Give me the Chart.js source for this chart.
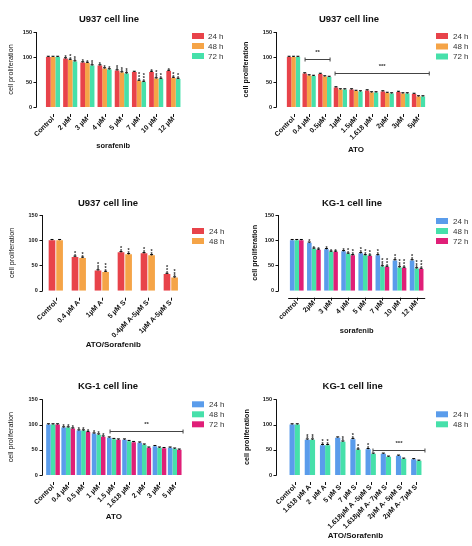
<!DOCTYPE html>
<html><head><meta charset="utf-8">
<script src="https://cdn.jsdelivr.net/npm/chart.js@4.4.0/dist/chart.umd.min.js"></script>
<style>
html,body{margin:0;padding:0;background:#fff;}
#wrap{position:relative;width:472px;height:546px;overflow:hidden;}
canvas{position:absolute;left:0;top:0;width:472px;height:546px;}
</style>
</head><body>
<div id="wrap">
<canvas id="c1" width="472" height="546"></canvas>
<canvas id="c2" width="472" height="546"></canvas>
<canvas id="c3" width="472" height="546"></canvas>
<canvas id="c4" width="472" height="546"></canvas>
<canvas id="c5" width="472" height="546"></canvas>
<canvas id="c6" width="472" height="546"></canvas>
</div>
<script>
// ---------- DATA ----------
const timeLabels3 = ['24 h', '48 h', '72 h'];
const timeLabels2 = ['24 h', '48 h'];
const yTicksMax = 150;
const errorBar = 1.5;

// Panel 1: U937, sorafenib
const u937SorLabels = ['Control', '2 µM', '3 µM', '4 µM', '5 µM', '7 µM', '10 µM', '12 µM'];
const u937Sor24 = [100, 97, 89, 83, 73, 70, 70, 72];
const u937Sor48 = [100, 94, 88, 77, 69, 52, 57, 58];
const u937Sor72 = [100, 91, 83, 75, 67, 50, 56, 56];
const u937SorStars24 = ['', '*', '*', '*', '**', '', '*', '*'];
const u937SorStars48 = ['', '**', '*', '*', '**', '***', '***', '**'];
const u937SorStars72 = ['', '**', '**', '*', '**', '***', '**', '**'];

// Panel 2: U937, ATO
const u937AtoLabels = ['Control', '0.4 µM', '0.5µM', '1µM', '1.5µM', '1.618 µM', '2µM', '3µM', '5µM'];
const u937Ato24 = [100, 67, 66, 39, 35, 33, 31, 30, 26];
const u937Ato48 = [100, 63, 61, 35, 32, 29, 28, 27, 21];
const u937Ato72 = [100, 62, 60, 35, 31, 29, 27, 27, 21];
const u937AtoBrackets = [
  {from: '0.4 µM', to: '0.5µM', level: 96, text: '**', fromOff: -0.26, toOff: 0.34},
  {from: '1µM', to: '5µM', level: 68, text: '***', fromOff: -0.34, toOff: 0.69}
];

// Panel 3: U937, ATO/Sorafenib
const u937ComboLabels = ['Control', '0.4 µM A', '1µM A', '5 µM S', '0.4µM A-5µM S', '1µM A-5µM S'];
const u937Combo24 = [100, 67, 40, 76, 74, 33];
const u937Combo48 = [100, 65, 37, 72, 70, 26];
const u937ComboStars24 = ['', '**', '***', '**', '**', '***'];
const u937ComboStars48 = ['', '**', '***', '**', '**', '***'];

// Panel 4: KG-1, sorafenib
const kgSorLabels = ['control', '2µM', '3 µM', '4 µM', '5 µM', '7 µM', '10 µM', '12 µM'];
const kgSor24 = [100, 95, 82, 78, 74, 70, 60, 60];
const kgSor48 = [100, 83, 77, 73, 70, 48, 46, 44];
const kgSor72 = [100, 81, 77, 70, 69, 47, 45, 43];
const kgSorStars24 = ['', '*', '*', '*', '**', '**', '**', '**'];
const kgSorStars48 = ['', '*', '*', '**', '**', '***', '***', '***'];
const kgSorStars72 = ['', '*', '*', '**', '**', '***', '***', '***'];

// Panel 5: KG-1, ATO
const kgAtoLabels = ['Control', '0.4 µM', '0.5 µM', '1 µM', '1.5 µM', '1.618 µM', '2 µM', '3 µM', '5 µM'];
const kgAto24 = [100, 94, 88, 82, 74, 70, 64, 57, 54];
const kgAto48 = [100, 94, 88, 80, 71, 67, 60, 54, 52];
const kgAto72 = [100, 92, 85, 76, 70, 65, 54, 53, 50];
const kgAtoStars24 = ['', '*', '*', '*', '', '', '', '', ''];
const kgAtoStars48 = ['', '*', '*', '*', '', '', '', '', ''];
const kgAtoStars72 = ['', '*', '*', '*', '', '', '', '', ''];
const kgAtoBrackets = [
  {from: '1.5 µM', to: '5 µM', level: 87, text: '**', fromOff: -0.25, toOff: 0.55}
];

// Panel 6: KG-1, ATO/Sorafenib
const kgComboLabels = ['Control', '1.618 µM A', '2  µM A', '5 µM S', '7 µM S', '1.618µM A -5µM S', '1.618µM A- 7µM S', '2µM A- 5µM S', '2µM A- 7µM S'];
const kgCombo24 = [100, 70, 59, 74, 71, 51, 42, 38, 31];
const kgCombo48 = [100, 70, 59, 66, 50, 42, 36, 32, 28];
const kgComboStars24 = ['', '**', '**', '', '**', '**', '', '', ''];
const kgComboStars48 = ['', '**', '**', '**', '**', '', '', '', ''];
const kgComboBrackets = [
  {from: '1.618µM A -5µM S', to: '2µM A- 7µM S', level: 50, text: '***', fromOff: 0.15, toOff: 0.57}
];

// ---------- STYLE ----------
const RED = '#E8434A', ORANGE = '#F5A447', MINT = '#46E0AA', BLUE = '#5A9CEB', MAGENTA = '#E01F78';
const FONT = "'Liberation Sans', Arial, Helvetica, sans-serif";
const INK = '#111';

function decoPlugin(p) {
  return {
    id: 'deco',
    afterDraw(chart) {
      const ctx = chart.ctx, xs = chart.scales.x, ys = chart.scales.y;
      const y0 = ys.getPixelForValue(0), yTop = ys.getPixelForValue(yTicksMax);
      ctx.save();
      ctx.strokeStyle = INK; ctx.lineWidth = 1;
      // y axis line + ticks
      ctx.beginPath();
      const ax = Math.round(p.axisX) + 0.5;
      ctx.moveTo(ax, y0 + 0.5); ctx.lineTo(ax, yTop);
      ys.ticks.forEach(t => {
        const y = Math.round(ys.getPixelForValue(t.value)) + 0.5;
        ctx.moveTo(ax - 3, y); ctx.lineTo(ax, y);
      });
      ctx.stroke();
      // x ticks
      ctx.beginPath();
      const tt = y0 + 7;
      xs.ticks.forEach((t, i) => {
        const x = Math.round(xs.getPixelForTick(i)) + 0.5;
        ctx.moveTo(x, tt); ctx.lineTo(x, tt + 3);
      });
      if (p.xLine) {
        const yl = Math.round(tt) + 0.5;
        ctx.moveTo(chart.chartArea.left, yl); ctx.lineTo(chart.chartArea.right, yl);
      }
      ctx.stroke();
      // error bars and stars
      ctx.font = 'bold 5.5px ' + FONT;
      ctx.textAlign = 'center'; ctx.textBaseline = 'alphabetic';
      chart.data.datasets.forEach((ds, i) => {
        const meta = chart.getDatasetMeta(i);
        meta.data.forEach((bar, j) => {
          const v = ds.data[j];
          const yv = ys.getPixelForValue(v), ye = ys.getPixelForValue(v + errorBar);
          ctx.strokeStyle = '#000'; ctx.lineWidth = 1;
          ctx.beginPath();
          ctx.moveTo(bar.x, yv); ctx.lineTo(bar.x, ye);
          ctx.moveTo(bar.x - 1.5, ye); ctx.lineTo(bar.x + 1.5, ye);
          ctx.stroke();
          const s = (p.stars && p.stars[i]) ? p.stars[i][j] : '';
          ctx.fillStyle = '#222';
          for (let k = 0; k < s.length; k++) {
            ctx.fillText('*', bar.x, ye - 1.5 - k * 2.7 + 3);
          }
        });
      });
      // brackets
      (p.brackets || []).forEach(b => {
        const i1 = p.labels.indexOf(b.from), i2 = p.labels.indexOf(b.to);
        const cw = xs.getPixelForTick(1) - xs.getPixelForTick(0);
        const x1 = xs.getPixelForTick(i1) + b.fromOff * cw;
        const x2 = xs.getPixelForTick(i2) + b.toOff * cw;
        const y = Math.round(ys.getPixelForValue(b.level)) + 0.5;
        ctx.strokeStyle = '#444'; ctx.lineWidth = 1;
        ctx.beginPath();
        ctx.moveTo(x1, y); ctx.lineTo(x2, y);
        ctx.moveTo(x1, y - 2); ctx.lineTo(x1, y + 2);
        ctx.moveTo(x2, y - 2); ctx.lineTo(x2, y + 2);
        ctx.stroke();
        ctx.fillStyle = '#333';
        ctx.font = 'bold 6px ' + FONT;
        ctx.textAlign = 'center'; ctx.textBaseline = 'middle';
        ctx.fillText(b.text, (x1 + x2) / 2, y - 7);
      });
      // title
      ctx.fillStyle = INK;
      ctx.font = 'bold 9.5px ' + FONT;
      ctx.textAlign = 'center'; ctx.textBaseline = 'middle';
      ctx.fillText(p.title, p.titleX, p.titleY);
      // legend
      ctx.font = '8px ' + FONT;
      ctx.textAlign = 'left';
      chart.data.datasets.forEach((ds, i) => {
        const yc = p.legend.ys[i];
        ctx.fillStyle = ds.backgroundColor;
        ctx.fillRect(p.legend.x, yc - 3, 12, 6);
        ctx.fillStyle = '#333';
        ctx.fillText(ds.label, p.legend.textX, yc + 0.5);
      });
      ctx.restore();
    }
  };
}

function makePanel(id, p) {
  const yW = p.area.l - p.panelLeft;
  const xTitleSize = p.xTitleSize || 7.5;
  const xLH = xTitleSize * 1.2;
  const xH = p.xTitleY + xLH / 2 + 1 - p.area.b;
  const yTitleSize = 7.2;
  const yLH = yTitleSize * 1.2;
  const ytp = p.yTitleX - p.panelLeft - yLH / 2;
  const datasets = p.series.map((d, i) => ({
    label: p.names[i], data: d, backgroundColor: p.colors[i], borderWidth: 0,
    barPercentage: p.bar, categoryPercentage: p.cat
  }));
  new Chart(document.getElementById(id), {
    type: 'bar',
    data: {labels: p.labels, datasets},
    options: {
      responsive: false, animation: false, devicePixelRatio: 1,
      layout: {padding: {left: p.area.l - yW, right: 472 - p.area.r, top: p.area.t, bottom: 546 - (p.area.b + xH)}},
      plugins: {legend: {display: false}, title: {display: false}, tooltip: {enabled: false}},
      scales: {
        x: {
          grid: {display: false, drawTicks: false}, border: {display: false},
          ticks: {autoSkip: false, maxRotation: 45, minRotation: 45, padding: 8, color: INK,
                  font: {family: FONT, size: 7, weight: 'bold'}},
          title: {display: true, text: p.xTitle, color: INK, padding: {top: 0, bottom: 1},
                  font: {family: FONT, size: xTitleSize, weight: 'bold'}},
          afterFit: s => { s.height = xH; }
        },
        y: {
          min: 0, max: yTicksMax,
          grid: {display: false, drawTicks: false}, border: {display: false},
          ticks: {stepSize: 50, padding: p.area.l - p.axisX + 4, color: INK,
                  font: {family: FONT, size: 5.5, weight: 'bold'}},
          title: {display: true, text: 'cell proliferation', color: INK, padding: {top: ytp, bottom: 0},
                  font: {family: FONT, size: yTitleSize, weight: p.yBold ? 'bold' : 'normal'}},
          afterFit: s => { s.width = yW; }
        }
      }
    },
    plugins: [decoPlugin(p)]
  });
}

makePanel('c1', {
  labels: u937SorLabels, series: [u937Sor24, u937Sor48, u937Sor72], names: timeLabels3,
  colors: [RED, ORANGE, MINT], stars: [u937SorStars24, u937SorStars48, u937SorStars72],
  area: {l: 44.4, r: 182, t: 32, b: 107}, axisX: 36, panelLeft: 0, yTitleX: 11.5, xTitleY: 146,
  xTitle: 'sorafenib', title: 'U937 cell line', titleX: 109, titleY: 19,
  legend: {x: 192, ys: [36, 46, 56], textX: 208}, cat: 0.82, bar: 1.0, yBold: false
});
makePanel('c2', {
  labels: u937AtoLabels, series: [u937Ato24, u937Ato48, u937Ato72], names: timeLabels3,
  colors: [RED, ORANGE, MINT], brackets: u937AtoBrackets,
  area: {l: 285.7, r: 426.3, t: 32, b: 107}, axisX: 276, panelLeft: 236, yTitleX: 246, xTitleY: 150,
  xTitle: 'ATO', xTitleSize: 8, title: 'U937 cell line', titleX: 349, titleY: 19,
  legend: {x: 436, ys: [36, 46.5, 56.5], textX: 453}, cat: 0.85, bar: 1.0, yBold: true
});
makePanel('c3', {
  labels: u937ComboLabels, series: [u937Combo24, u937Combo48], names: timeLabels2,
  colors: [RED, ORANGE], stars: [u937ComboStars24, u937ComboStars48],
  area: {l: 44.3, r: 182.3, t: 215, b: 290.7}, axisX: 41.7, panelLeft: 0, yTitleX: 11.7, xTitleY: 345,
  xTitle: 'ATO/Sorafenib', xTitleSize: 8, title: 'U937 cell line', titleX: 108, titleY: 203,
  legend: {x: 192, ys: [231, 241], textX: 209}, cat: 0.66, bar: 0.88, yBold: false
});
makePanel('c4', {
  labels: kgSorLabels, series: [kgSor24, kgSor48, kgSor72], names: timeLabels3,
  colors: [BLUE, MINT, MAGENTA], stars: [kgSorStars24, kgSorStars48, kgSorStars72],
  area: {l: 288.2, r: 425.2, t: 215, b: 290.7}, axisX: 278, panelLeft: 236, yTitleX: 255, xTitleY: 331,
  xTitle: 'sorafenib', title: 'KG-1 cell line', titleX: 352, titleY: 203,
  legend: {x: 436, ys: [221, 231, 241], textX: 453}, cat: 0.8, bar: 1.0, yBold: true, xLine: true
});
makePanel('c5', {
  labels: kgAtoLabels, series: [kgAto24, kgAto48, kgAto72], names: timeLabels3,
  colors: [BLUE, MINT, MAGENTA], stars: [kgAtoStars24, kgAtoStars48, kgAtoStars72], brackets: kgAtoBrackets,
  area: {l: 45.4, r: 182.3, t: 399.3, b: 475}, axisX: 41.7, panelLeft: 0, yTitleX: 11, xTitleY: 516.7,
  xTitle: 'ATO', xTitleSize: 8, title: 'KG-1 cell line', titleX: 108, titleY: 386,
  legend: {x: 192, ys: [404.3, 414.3, 424.3], textX: 209}, cat: 0.9, bar: 1.0, yBold: false
});
makePanel('c6', {
  labels: kgComboLabels, series: [kgCombo24, kgCombo48], names: timeLabels2,
  colors: [BLUE, MINT], stars: [kgComboStars24, kgComboStars48], brackets: kgComboBrackets,
  area: {l: 287.1, r: 423.9, t: 399.3, b: 475}, axisX: 276, panelLeft: 236, yTitleX: 247, xTitleY: 535.7,
  xTitle: 'ATO/Sorafenib', xTitleSize: 8, title: 'KG-1 cell line', titleX: 352.7, titleY: 386,
  legend: {x: 436, ys: [414.3, 424.3], textX: 453}, cat: 0.68, bar: 1.0, yBold: true
});
</script>
</body></html>
